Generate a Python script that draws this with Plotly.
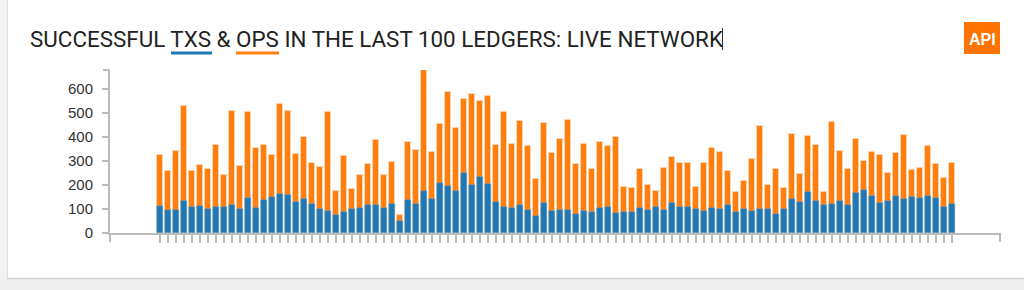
import plotly.graph_objects as go

# ---- data ----
ledgers = list(range(100))
ops = [324, 260, 342, 529, 258, 282, 267, 369, 240, 507,
       281, 506, 354, 368, 324, 539, 507, 329, 400, 293,
       276, 506, 174, 321, 185, 242, 289, 387, 242, 297,
       75, 378, 347, 679, 339, 453, 590, 437, 558, 581,
       551, 572, 367, 506, 371, 469, 362, 224, 457, 332,
       393, 472, 288, 371, 265, 381, 361, 400, 190, 186,
       268, 201, 174, 272, 315, 293, 290, 192, 294, 356,
       338, 260, 171, 219, 307, 447, 200, 268, 186, 414,
       247, 406, 369, 172, 463, 344, 268, 393, 299, 336,
       324, 251, 332, 408, 261, 272, 365, 288, 228, 294]
txs = [112, 97, 97, 132, 110, 112, 100, 110, 108, 117,
       101, 147, 104, 137, 150, 164, 157, 128, 143, 122,
       100, 93, 76, 86, 99, 103, 115, 118, 103, 121,
       51, 137, 122, 177, 142, 210, 196, 176, 251, 200,
       233, 206, 131, 110, 104, 115, 96, 71, 126, 93,
       96, 96, 79, 93, 86, 104, 110, 85, 88, 89,
       104, 97, 110, 96, 126, 108, 108, 101, 90, 104,
       101, 118, 86, 100, 93, 101, 101, 81, 100, 140,
       131, 169, 132, 118, 121, 135, 115, 167, 178, 153,
       126, 132, 153, 140, 150, 146, 153, 147, 108, 121]
y_ticks = [0, 100, 200, 300, 400, 500, 600]
title_text = "SUCCESSFUL TXS & OPS IN THE LAST 100 LEDGERS: LIVE NETWORK"

W, H = 1024, 290
L, R, T, B = 110, 24, 70, 57
pw, ph = W - L - R, H - T - B


def px(x):
    return (x - L) / pw


def py(y):
    return (H - B - y) / ph


BLUE = "#1f77b4"
ORANGE = "#ff7f0e"
AXIS = "#bbbbbb"

fig = go.Figure()
fig.add_bar(x=ledgers, y=ops, width=0.64, marker_color=ORANGE,
            marker_line=dict(color="#ffd3ad", width=1), name="OPS")
fig.add_bar(x=ledgers, y=txs, width=0.64, marker_color=BLUE,
            marker_line=dict(color="#6aa3cc", width=0.5), name="TXS")

shapes = []
# card background / shadow
shapes.append(dict(type="rect", xref="paper", yref="paper", x0=px(0), x1=px(7), y0=py(290), y1=py(0),
                   fillcolor="#f2f2f2", line_width=0, layer="below"))
shapes.append(dict(type="rect", xref="paper", yref="paper", x0=px(0), x1=px(1024), y0=py(290), y1=py(279),
                   fillcolor="#eeeeee", line_width=0, layer="below"))
shapes.append(dict(type="line", xref="paper", yref="paper", x0=px(7.5), x1=px(7.5), y0=py(279), y1=py(0),
                   line=dict(color="#dcdcdc", width=1)))
shapes.append(dict(type="line", xref="paper", yref="paper", x0=px(7), x1=px(1024), y0=py(278.5), y1=py(278.5),
                   line=dict(color="#d0d0d0", width=1.5)))
# title underlines
shapes.append(dict(type="line", xref="paper", yref="paper", x0=px(171), x1=px(212), y0=py(53), y1=py(53),
                   line=dict(color=BLUE, width=3)))
shapes.append(dict(type="line", xref="paper", yref="paper", x0=px(236), x1=px(279), y0=py(53), y1=py(53),
                   line=dict(color=ORANGE, width=3)))
# caret
shapes.append(dict(type="line", xref="paper", yref="paper", x0=px(722.5), x1=px(722.5), y0=py(28), y1=py(50),
                   line=dict(color="#333333", width=1)))
# API button
shapes.append(dict(type="rect", xref="paper", yref="paper", x0=px(964), x1=px(1000), y0=py(54), y1=py(22),
                   fillcolor="#ff7300", line_width=0))
# outer ticks (d3 style)
shapes.append(dict(type="line", xref="paper", yref="paper", x0=0, x1=0, y0=py(233), y1=py(242),
                   line=dict(color=AXIS, width=2)))
shapes.append(dict(type="line", xref="paper", yref="paper", x0=1, x1=1, y0=py(233), y1=py(242),
                   line=dict(color=AXIS, width=2)))
shapes.append(dict(type="line", xref="paper", yref="paper", x0=px(103), x1=px(110), y0=1, y1=1,
                   line=dict(color=AXIS, width=2)))

annotations = [
    dict(text=title_text, xref="paper", yref="paper", x=px(28), y=py(39), xanchor="left", yanchor="middle",
         showarrow=False, font=dict(family="Roboto", size=22.4, color="#222222")),
    dict(text="<b>API</b>", xref="paper", yref="paper", x=px(982), y=py(39), xanchor="center",
         yanchor="middle", showarrow=False, font=dict(family="Liberation Sans", size=16, color="white")),
]

fig.update_layout(
    width=W, height=H,
    margin=dict(l=L, r=R, t=T, b=B, pad=0),
    paper_bgcolor="white", plot_bgcolor="white",
    barmode="overlay", bargap=0,
    showlegend=False,
    shapes=shapes, annotations=annotations,
    xaxis=dict(range=[-6.25, 105], showgrid=False, zeroline=False, showline=True,
               linecolor=AXIS, linewidth=2, ticks="outside", ticklen=8, tickwidth=1.5,
               tickcolor=AXIS, tickvals=ledgers, ticktext=[""] * len(ledgers), fixedrange=True),
    yaxis=dict(range=[0, 680], showgrid=False, zeroline=False, showline=True,
               linecolor=AXIS, linewidth=2, ticks="outside", ticklen=6, tickwidth=2,
               tickcolor=AXIS, tickvals=y_ticks, ticktext=[str(v) for v in y_ticks],
               tickfont=dict(family="Liberation Sans", size=15, color="#333333"),
               ticklabelstandoff=6, fixedrange=True),
)

fig.write_html("out.html", config={"displayModeBar": False})
